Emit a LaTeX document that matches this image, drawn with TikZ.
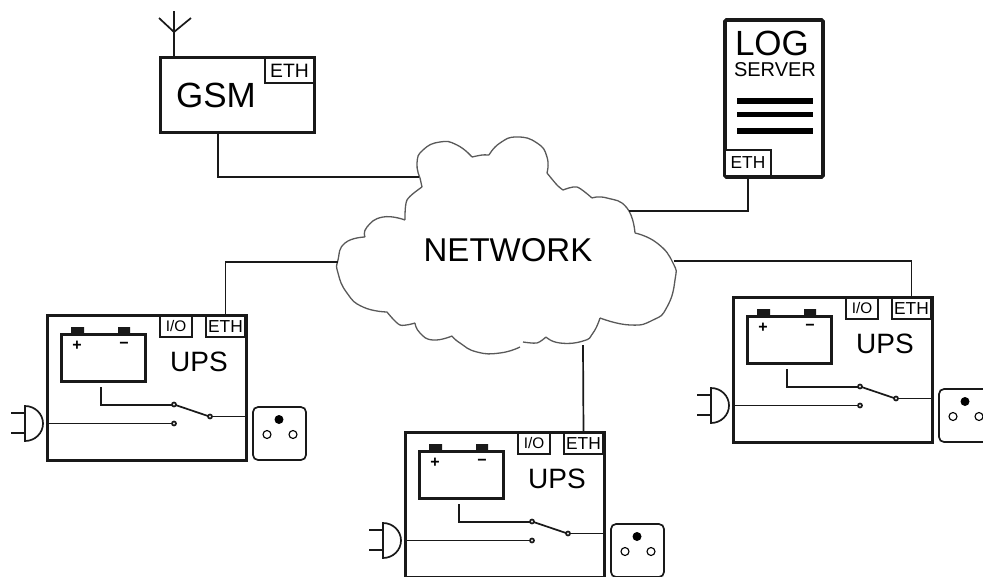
\documentclass[tikz,border=0pt]{standalone}
\usepackage{fontspec}
\setmainfont{Liberation Sans}
\def\px{0.75pt}
\tikzset{
	frame/.style={draw=black!90, line width=3*\px, fill=white, inner sep=0pt, outer sep=0pt},
	port/.style={frame, line width=2.4*\px, font=\fontsize{13}{14}\selectfont},
	wire/.style={line width=1.7*\px, black!90},
	label/.style={inner sep=0pt, outer sep=0pt},
	cloudline/.style={line width=1.3*\px, black!65},
	upsunit/.pic={
		\node [frame, minimum width=199*\px, minimum height=145*\px] (box) at (146.5,387.5) {};
		\node [port, font=\fontsize{11.5}{12}\selectfont, minimum width=32*\px, minimum height=21*\px] (io) at (176,326.5) {I/O};
		\node [port, minimum width=39*\px, minimum height=21*\px] (eth) at (225.5,326.5) {ETH};
		\node [label, font=\fontsize{21}{22}\selectfont] at (199,362) {UPS};
		% battery
		\node [frame, minimum width=84*\px, minimum height=47*\px] (bat) at (103,357.5) {};
		\fill [black!90] (71,327) rectangle (84,334) (118,327) rectangle (130,334);
		\node [label, font=\fontsize{12}{12}\selectfont\bfseries] at (77,345.5) {+};
		\node [label, font=\fontsize{12}{12}\selectfont\bfseries] at (124,345.5) {−};
		% switch
		\draw [wire] (101,387) -- (101,405) -- (172,405);
		\draw [wire] (175.5,405) -- (208,416);
		\draw [wire] (212,416.5) -- (245,416.5);
		\draw [wire] (47,423.5) -- (172,423.5);
		\draw [wire, fill=white] (174,404.5) circle (2);
		\draw [wire, fill=white] (210,416.5) circle (2);
		\draw [wire, fill=white] (174,423.5) circle (2);
		% plug
		\draw [wire] (11,413) -- (25,413) (11,433) -- (25,433);
		\draw [wire] (25,406) arc (-90:90:18 and 17.5) -- cycle;
		% socket
		\node [draw=black!90, line width=1.7*\px, rounded corners=5*\px, minimum size=53*\px, inner sep=0pt, outer sep=0pt] (wall) at (279.5,433.5) {};
		\fill [black] (279,419.5) circle (4.5);
		\draw [line width=1.1*\px] (267,434.5) circle (4) (293,434.5) circle (4);
	}
}
\begin{document}
\begin{tikzpicture}[x=0.75pt, y=-0.75pt]
	\useasboundingbox (0,0) rectangle (983,576);
	% cloud
	\draw [cloudline] plot [smooth, tension=0.9] coordinates {(420,178) (417,163) (423,150) (440,142) (457,145) (472,157)}
		plot [smooth] coordinates {(472,157) (482,155) (489,155)}
		plot [smooth, tension=0.9] coordinates {(489,155) (500,143) (517,137) (537,143) (547,157) (547,173)}
		plot [smooth] coordinates {(547,173) (557,185) (563,190)}
		plot [smooth] coordinates {(563,190) (577,187) (592,198)}
		plot [smooth, tension=0.9] coordinates {(592,198) (607,198) (627,208) (635,233)}
		plot [smooth, tension=0.9] coordinates {(635,233) (657,243) (673,263) (675,280) (667,307) (653,320) (630,325) (600,318)}
		plot [smooth, tension=0.9] coordinates {(600,318) (593,333) (583,341) (560,343) (546,337)}
		plot [smooth] coordinates {(546,337) (537,343) (523,342)}
		plot [smooth, tension=0.9] coordinates {(520,347) (500,353) (477,352) (460,343) (452,336)}
		plot [smooth, tension=0.9] coordinates {(452,336) (433,340) (420,333) (415,323)}
		plot [smooth] coordinates {(415,323) (400,325) (387,312)}
		plot [smooth, tension=0.9] coordinates {(387,312) (363,307) (347,293) (338,273) (338,260) (345,243) (365,237)}
		plot [smooth, tension=0.9] coordinates {(365,237) (367,227) (383,217) (405,220)}
		plot [smooth] coordinates {(405,220) (407,200) (422,187)}
		plot [smooth] coordinates {(422,187) (420,178)};
	\node [label, font=\fontsize{24.75}{26}\selectfont] (network) at (508,250) {NETWORK};
	\coordinate (cloudgsm) at (419,177);
	\coordinate (cloudlog) at (629,211);
	\coordinate (cloudleft) at (338,262);
	\coordinate (cloudright) at (674,261);
	\coordinate (cloudbottom) at (583,345);
	% gsm
	\node [frame, minimum width=154*\px, minimum height=75*\px] (gsm) at (237,94.5) {};
	\node [port, font=\fontsize{14.5}{15}\selectfont, minimum width=49*\px, minimum height=25*\px] (gsmeth) at (289.5,70.5) {ETH};
	\node [label, font=\fontsize{26.25}{27}\selectfont] at (216,95) {GSM};
	\coordinate (aerial) at (174,32);
	\coordinate (gsmport) at (218,132);
	\draw [wire] (174,57) -- (174,11) (159,18) -- (aerial) -- (191,18);
	\draw [wire] (gsmport) |- (cloudgsm);
	% log server
	\node [frame, line width=3.6*\px, rounded corners=1pt, minimum width=98*\px, minimum height=157*\px] (log) at (774,98.5) {};
	\node [port, minimum width=46*\px, minimum height=26*\px] (logeth) at (748,163) {ETH};
	\node [label, font=\fontsize{26.25}{27}\selectfont, anchor=west] at (735,43) {LOG};
	\node [label, font=\fontsize{15}{16}\selectfont, anchor=west] at (734,70) {SERVER};
	\draw [line width=5.5*\px] (737,101) -- (813,101) (737,114.5) -- (813,114.5) (737,131) -- (813,131);
	\draw [wire] (logeth.south) |- (cloudlog);
	% ups units
	\pic [name prefix=upsa] at (0,0) {upsunit};
	\pic [name prefix=upsb] at (358,117) {upsunit};
	\pic [name prefix=upsc] at (686,-18) {upsunit};
	\draw [wire] (upsaeth.north) |- (cloudleft);
	\draw [wire] (upsbeth.north) -- (cloudbottom);
	\draw [wire] (upsceth.north) |- (cloudright);
\end{tikzpicture}
\end{document}
